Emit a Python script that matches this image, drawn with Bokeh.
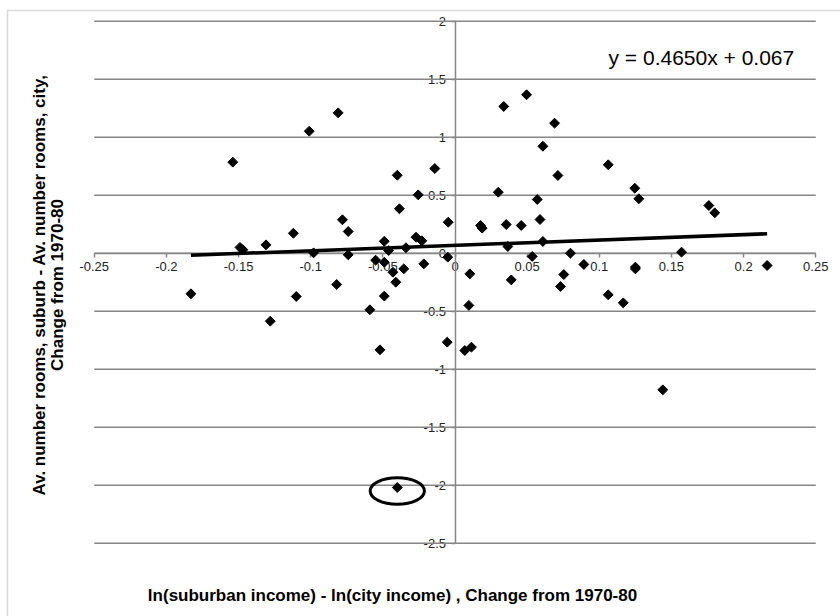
import math
from bokeh.plotting import figure
from bokeh.models import Range1d, Label, BoxAnnotation
from bokeh.embed import file_html
from bokeh.resources import INLINE

# ---- data ----
x_vals = [-0.183, -0.154, -0.149, -0.147, -0.131, -0.128, -0.112, -0.110, -0.101, -0.098,
          -0.081, -0.082, -0.078, -0.074, -0.074, -0.059, -0.055, -0.052, -0.049, -0.049,
          -0.049, -0.046, -0.043, -0.041, -0.040, -0.0385, -0.0355, -0.034, -0.027, -0.0255,
          -0.023, -0.0216, -0.014, -0.0047, -0.005, -0.0054, 0.0103, 0.0096, 0.0068, 0.0114,
          0.0177, 0.0188, 0.030, 0.0338, 0.0355, 0.0366, 0.039, 0.0459, 0.0496, 0.0535,
          0.057, 0.0589, 0.0609, 0.0609, 0.069, 0.0713, 0.0731, 0.0754, 0.080, 0.0893,
          0.1062, 0.1062, 0.1166, 0.1246, 0.1274, 0.125, 0.125, 0.157, 0.1759, 0.180,
          0.2163, 0.144, -0.040]
y_vals = [-0.35, 0.785, 0.05, 0.03, 0.072, -0.586, 0.172, -0.373, 1.052, 0.003,
          1.21, -0.27, 0.288, 0.187, -0.014, -0.488, -0.06, -0.833, 0.103, -0.078,
          -0.37, 0.023, -0.164, -0.25, 0.672, 0.383, -0.135, 0.047, 0.138, 0.503,
          0.107, -0.092, 0.73, 0.267, -0.034, -0.767, -0.178, -0.45, -0.839, -0.81,
          0.239, 0.216, 0.526, 1.265, 0.247, 0.058, -0.23, 0.239, 1.366, -0.028,
          0.463, 0.29, 0.922, 0.101, 1.121, 0.67, -0.287, -0.184, 0.0, -0.097,
          0.762, -0.359, -0.428, 0.56, 0.469, -0.12, -0.135, 0.009, 0.411, 0.348,
          -0.106, -1.178, -2.02]

slope = 0.4650
intercept = 0.067
equation_text = "y = 0.4650x + 0.067"

x_ticks = [-0.25, -0.2, -0.15, -0.1, -0.05, 0, 0.05, 0.1, 0.15, 0.2, 0.25]
x_tick_labels = ["-0.25", "-0.2", "-0.15", "-0.1", "-0.05", "0", "0.05", "0.1", "0.15", "0.2", "0.25"]
y_ticks = [-2.5, -2, -1.5, -1, -0.5, 0, 0.5, 1, 1.5, 2]
y_tick_labels = ["-2.5", "-2", "-1.5", "-1", "-0.5", "0", "0.5", "1", "1.5", "2"]

x_title = "ln(suburban income) - ln(city income) , Change from 1970-80"
y_title_1 = "Av. number rooms, suburb - Av. number rooms, city,"
y_title_2 = "Change from 1970-80"

FONT = "Liberation Sans"
GRAY = "#868686"

x_lo, x_hi = x_ticks[0], x_ticks[-1]
y_lo, y_hi = y_ticks[0], y_ticks[-1]

# The frame covers the whole canvas; the value window (-0.25..0.25, -2.5..2)
# sits where the reference draws it, and titles sit in the margin around it.
p = figure(width=840, height=616,
           x_range=Range1d(-0.31497, 0.26715), y_range=Range1d(-3.1319, 2.1784),
           output_backend="svg", toolbar_location=None,
           min_border_left=0, min_border_right=0, min_border_top=0, min_border_bottom=0)
p.outline_line_color = None
p.background_fill_color = "white"
p.border_fill_color = "white"

# axes crossing at zero
p.xaxis.fixed_location = 0
p.yaxis.fixed_location = 0
p.xaxis.bounds = (x_lo, x_hi)
p.yaxis.bounds = (y_lo, y_hi)
p.xaxis.ticker = x_ticks
p.yaxis.ticker = y_ticks
p.xaxis.major_label_overrides = dict(zip(x_ticks, x_tick_labels))
p.yaxis.major_label_overrides = dict(zip(y_ticks, y_tick_labels))
for ax in (p.xaxis, p.yaxis):
    ax.axis_line_color = GRAY
    ax.axis_line_width = 1.5
    ax.major_tick_line_color = GRAY
    ax.major_tick_line_width = 1.5
    ax.major_tick_in = 0
    ax.major_tick_out = 4
    ax.minor_tick_line_color = None
    ax.major_label_text_font = FONT
    ax.major_label_text_font_size = "13px"
    ax.major_label_text_color = "#222222"
    ax.level = "underlay"

p.xgrid.visible = False
p.ygrid.visible = False

# outer chart border
p.add_layout(BoxAnnotation(left=-0.3101, right=0.4, top=2.0922, bottom=-4.0,
                           fill_alpha=0, line_color=GRAY, line_width=1.5,
                           editable=False))

# horizontal gridlines across the value window
p.segment(x0=[x_lo] * len(y_ticks), y0=y_ticks, x1=[x_hi] * len(y_ticks), y1=y_ticks,
          line_color=GRAY, line_width=1.5)

# points
p.scatter(x_vals, y_vals, marker="square", angle=math.pi / 4, size=7,
          fill_color="black", line_color="black")

# trend line
tx = [min(x_vals), max(x_vals)]
ty = [slope * v + intercept for v in tx]
p.line(tx, ty, line_color="black", line_width=3.5)

# circle around outlier
i_out = y_vals.index(min(y_vals))
p.ellipse(x=[x_vals[i_out]], y=[y_vals[i_out] - 0.03], width=0.0376, height=0.230,
          fill_color=None, line_color="black", line_width=3)

# equation
p.add_layout(Label(x=0.1064, y=1.69, text=equation_text, text_font=FONT,
                   text_font_size="21px", text_align="left", text_baseline="middle",
                   text_color="black"))

# axis titles
p.add_layout(Label(x=-0.0433, y=-2.951, text=x_title, text_font=FONT,
                   text_font_size="17px", text_font_style="bold",
                   text_align="center", text_baseline="middle", text_color="black"))
p.add_layout(Label(x=-0.2877, y=-0.274, text=y_title_1, text_font=FONT,
                   text_font_size="17px", text_font_style="bold", angle=math.pi / 2,
                   text_align="center", text_baseline="middle", text_color="black"))
p.add_layout(Label(x=-0.2758, y=-0.274, text=y_title_2, text_font=FONT,
                   text_font_size="17px", text_font_style="bold", angle=math.pi / 2,
                   text_align="center", text_baseline="middle", text_color="black"))

open("out.html", "w").write(file_html(p, INLINE))
